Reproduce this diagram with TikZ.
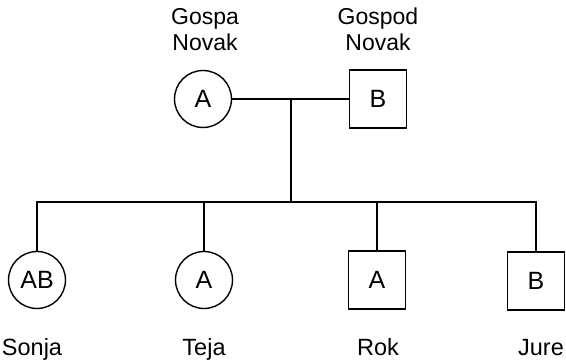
\documentclass[tikz,border=0pt]{standalone}
\usepackage{fontspec}
\setmainfont{Liberation Sans}
\begin{document}
\begin{tikzpicture}[x=1pt,y=-1pt,
  line width=1.4pt,
  female/.style={draw,circle,minimum size=57pt,inner sep=0pt,font=\fontsize{25}{29}\selectfont},
  male/.style={draw,rectangle,minimum width=57pt,minimum height=58pt,inner sep=0pt,font=\fontsize{25}{29}\selectfont},
  parentlabel/.style={anchor=base,inner sep=0pt,font=\fontsize{23}{27}\selectfont},
  kidlabel/.style={anchor=base,inner sep=0pt,font=\fontsize{23.5}{27}\selectfont}]
\useasboundingbox (0,0) rectangle (566,363);
% parents
\node[female] (mother) at (203,99) {A};
\node[male] (father) at (378,99) {B};
\node[parentlabel] (mname1) at (205,25) {Gospa};
\node[parentlabel] (mname2) at (205,51) {Novak};
\node[parentlabel] (fname1) at (378,25) {Gospod};
\node[parentlabel] (fname2) at (378,51) {Novak};
% children
\node[female] (sonja) at (37,280) {AB};
\node[female] (teja) at (204,280) {A};
\node[male] (rok) at (377,280) {A};
\node[male] (jure) at (536,281) {B};
\node[kidlabel] (lsonja) at (32,356) {Sonja};
\node[kidlabel] (lteja) at (204,356) {Teja};
\node[kidlabel] (lrok) at (378,356) {Rok};
\node[kidlabel] (ljure) at (541,356) {Jure};
% connectors
\coordinate (mid) at (291,99);
\coordinate (sib) at (291,202);
\draw (mother) -- (father);
\draw (mid) -- (sib);
\draw (sonja.north) |- (sib) -| (jure.north);
\draw (teja.north) -- (teja.north |- sib);
\draw (rok.north) -- (rok.north |- sib);
\end{tikzpicture}
\end{document}
